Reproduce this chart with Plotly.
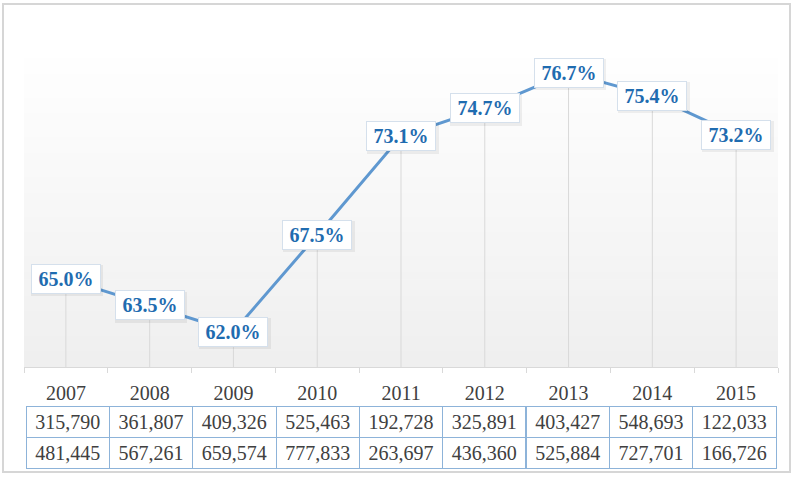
import plotly.graph_objects as go

years = ["2007", "2008", "2009", "2010", "2011", "2012", "2013", "2014", "2015"]
rates = [65.0, 63.5, 62.0, 67.5, 73.1, 74.7, 76.7, 75.4, 73.2]
row1 = [315790, 361807, 409326, 525463, 192728, 325891, 403427, 548693, 122033]
row2 = [481445, 567261, 659574, 777833, 263697, 436360, 525884, 727701, 166726]

W, H = 794, 477
YMIN, YMAX = 60, 78
serif = "Liberation Serif, Times New Roman, serif"
xpos = list(range(len(years)))

fig = go.Figure()

# drop lines
fig.add_trace(go.Scatter(
    x=xpos, y=rates, mode="markers", marker=dict(size=1, color="rgba(0,0,0,0)"),
    error_y=dict(type="data", symmetric=False, array=[0] * len(rates),
                 arrayminus=[r - YMIN for r in rates], color="#d9d9d9",
                 thickness=1, width=0),
    hoverinfo="skip", showlegend=False,
))
# main line
fig.add_trace(go.Scatter(
    x=xpos, y=rates, mode="lines", line=dict(color="#5f98d0", width=3),
    showlegend=False, hoverinfo="skip",
))

# labels (shadow + box)
for xp, r in zip(xpos, rates):
    fig.add_annotation(
        x=xp, y=r, xref="x", yref="y", text=" ", showarrow=False,
        width=70, height=29, xshift=1.5, yshift=-2,
        bgcolor="rgba(0,0,0,0.06)", borderwidth=0,
    )
    fig.add_annotation(
        x=xp, y=r, xref="x", yref="y", text=f"<b>{r:.1f}%</b>", showarrow=False,
        width=68, height=28,
        font=dict(family=serif, size=20, color="#1f6cb0"),
        bgcolor="white", bordercolor="#d5e0ec", borderwidth=1, borderpad=0,
    )

# gradient background stripes
n = 40
for i in range(n):
    t = i / n
    g = int(round(255 - (255 - 239) * (1 - t)))
    fig.add_shape(type="rect", xref="x domain", yref="y domain",
                  x0=0, x1=1, y0=t, y1=t + 1 / n + 0.002,
                  fillcolor=f"rgb({g},{g},{g})", line=dict(width=0), layer="below")

# table
fmt = lambda v: f"{v:,}"
fig.add_trace(go.Table(
    domain=dict(x=[26 / W, 776 / W], y=[1 - 470 / H, 1 - 406 / H]),
    columnwidth=[1] * len(years),
    header=dict(values=[fmt(v) for v in row1], height=31, align="center",
                fill=dict(color="white"), line=dict(color="#8db3d9", width=1),
                font=dict(family=serif, size=20, color="#404040")),
    cells=dict(values=[[fmt(v)] for v in row2], height=31, align="center",
               fill=dict(color="white"), line=dict(color="#8db3d9", width=1),
               font=dict(family=serif, size=20, color="#404040")),
))

# outer frame
fig.add_shape(type="rect", xref="paper", yref="paper",
              x0=3 / W, x1=790 / W, y0=1 - 472 / H, y1=1 - 4 / H,
              line=dict(color="#d6d6d6", width=2), layer="below")

fig.update_layout(
    width=W, height=H, margin=dict(l=0, r=0, t=0, b=0),
    paper_bgcolor="white", plot_bgcolor="rgba(0,0,0,0)",
    xaxis=dict(domain=[24 / W, 778 / W], range=[-0.5, len(years) - 0.5],
               showgrid=False, showline=True, linecolor="#d9d9d9", linewidth=1,
               tickmode="array", tickvals=xpos, ticktext=years, ticks="",
               tickfont=dict(family=serif, size=20, color="#404040"),
               ticklabelstandoff=8, zeroline=False, fixedrange=True,
               minor=dict(tickmode="array", tickvals=[i - 0.5 for i in range(len(years) + 1)],
                          ticks="outside", ticklen=5, tickcolor="#d9d9d9", showgrid=False)),
    yaxis=dict(domain=[1 - 367 / H, 1 - 50 / H], range=[YMIN, YMAX], visible=False,
               fixedrange=True),
)

fig.write_html("out.html", config={"displayModeBar": False},
               post_script="document.body.style.margin='0';")
